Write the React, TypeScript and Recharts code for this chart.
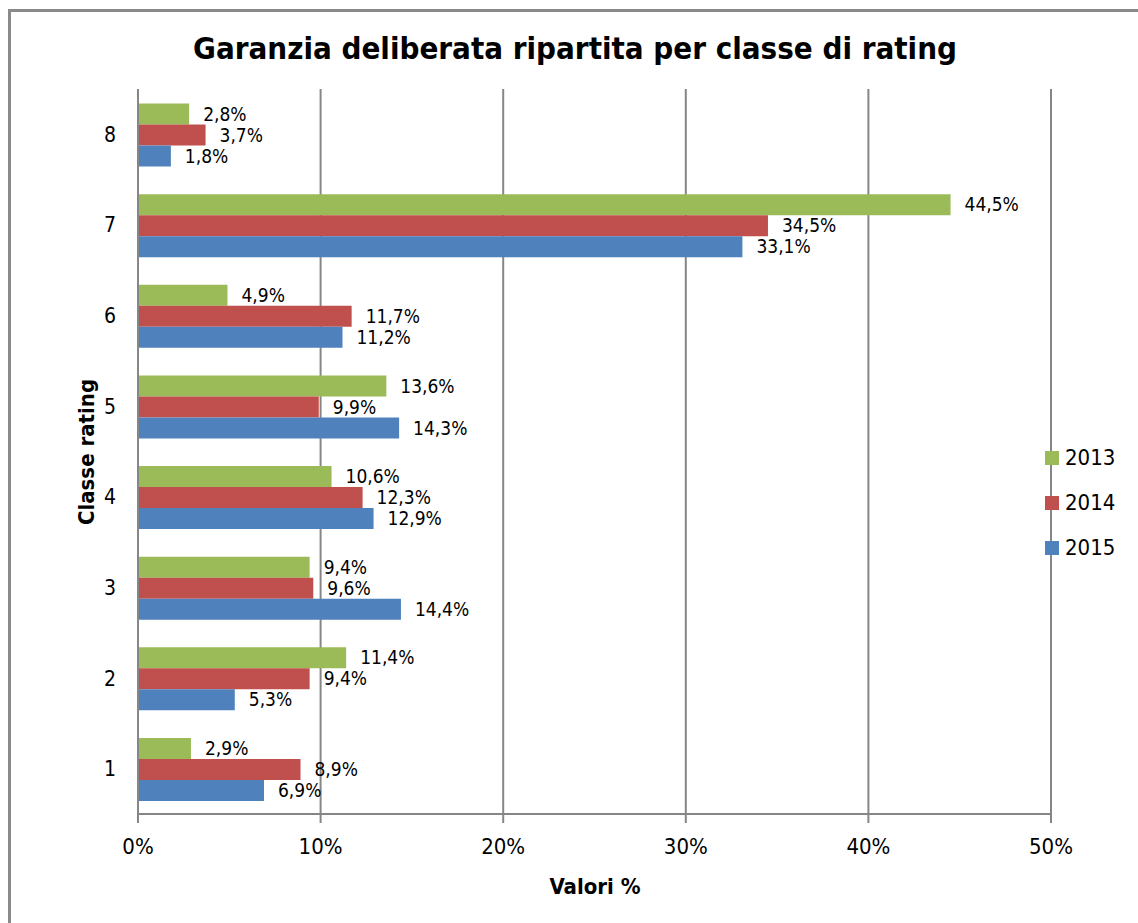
import { Bar, BarChart, CartesianGrid, LabelList, XAxis, YAxis } from "recharts"

const categories = ["1", "2", "3", "4", "5", "6", "7", "8"]
const values2013 = [2.9, 11.4, 9.4, 10.6, 13.6, 4.9, 44.5, 2.8]
const values2014 = [8.9, 9.4, 9.6, 12.3, 9.9, 11.7, 34.5, 3.7]
const values2015 = [6.9, 5.3, 14.4, 12.9, 14.3, 11.2, 33.1, 1.8]
const xTicks = [0, 10, 20, 30, 40, 50]

const series = [
  { key: "y2013", name: "2013", color: "#9BBB59" },
  { key: "y2014", name: "2014", color: "#C0504D" },
  { key: "y2015", name: "2015", color: "#4F81BD" },
]

// top of the chart is class 8, so build rows in reverse
const data = categories
  .map((name, i) => ({
    name,
    y2013: values2013[i],
    y2014: values2014[i],
    y2015: values2015[i],
  }))
  .reverse()

const font = "'DejaVu Sans Condensed', 'DejaVu Sans', sans-serif"
const gray = "#868686"

const fmt = (v: any) => `${Number(v).toFixed(1).replace(".", ",")}%`

const App = () => {
  return (
    <div
      style={{
        position: "absolute",
        left: 0,
        top: 0,
        width: 1138,
        height: 923,
        overflow: "hidden",
        background: "#fff",
        fontFamily: font,
      }}
    >
      <div
        style={{
          position: "absolute",
          left: 8,
          top: 9,
          width: 1200,
          height: 1000,
          border: "3px solid #8a8a8a",
        }}
      />
      <div
        style={{
          position: "absolute",
          left: 0,
          width: 1150,
          top: 30,
          textAlign: "center",
          fontSize: 31,
          fontWeight: "bold",
          color: "#000",
        }}
      >
        Garanzia deliberata ripartita per classe di rating
      </div>
      <BarChart
        width={1138}
        height={923}
        data={data}
        layout="vertical"
        barCategoryGap="16%"
        barGap={0}
        margin={{ top: 89, right: 87, bottom: 69, left: 98 }}
        style={{ position: "absolute", left: 0, top: 0 }}
      >
        <CartesianGrid horizontal={false} stroke={gray} strokeWidth={2} />
        <XAxis
          type="number"
          domain={[0, 50]}
          ticks={xTicks}
          tickFormatter={(v) => `${v}%`}
          height={40}
          stroke={gray}
          strokeWidth={2}
          tickSize={9}
          tickMargin={15}
          tick={{ fill: "#000", fontSize: 22, fontFamily: font }}
        />
        <YAxis
          type="category"
          dataKey="name"
          width={40}
          stroke={gray}
          strokeWidth={2}
          tickLine={false}
          tickSize={0}
          tickMargin={22}
          tick={{ fill: "#000", fontSize: 21, fontFamily: font }}
        />
        {series.map((s) => (
          <Bar key={s.key} dataKey={s.key} name={s.name} fill={s.color} isAnimationActive={false}>
            <LabelList
              dataKey={s.key}
              position="right"
              offset={14}
              formatter={fmt}
              style={{ fill: "#000", fontSize: 19, fontFamily: font }}
            />
          </Bar>
        ))}
      </BarChart>
      <div
        style={{
          position: "absolute",
          left: 86,
          top: 452,
          transform: "translate(-50%, -50%) rotate(-90deg)",
          fontSize: 22,
          fontWeight: "bold",
          whiteSpace: "nowrap",
        }}
      >
        Classe rating
      </div>
      <div
        style={{
          position: "absolute",
          left: 0,
          width: 1190,
          top: 874,
          textAlign: "center",
          fontSize: 22,
          fontWeight: "bold",
        }}
      >
        Valori %
      </div>
      {series.map((s, i) => (
        <div
          key={s.key}
          style={{
            position: "absolute",
            left: 1045,
            top: 445 + i * 45,
            display: "flex",
            alignItems: "center",
            fontSize: 22,
            lineHeight: "26px",
          }}
        >
          <span style={{ width: 14, height: 14, background: s.color, marginRight: 6 }} />
          {s.name}
        </div>
      ))}
    </div>
  )
}

export default App
